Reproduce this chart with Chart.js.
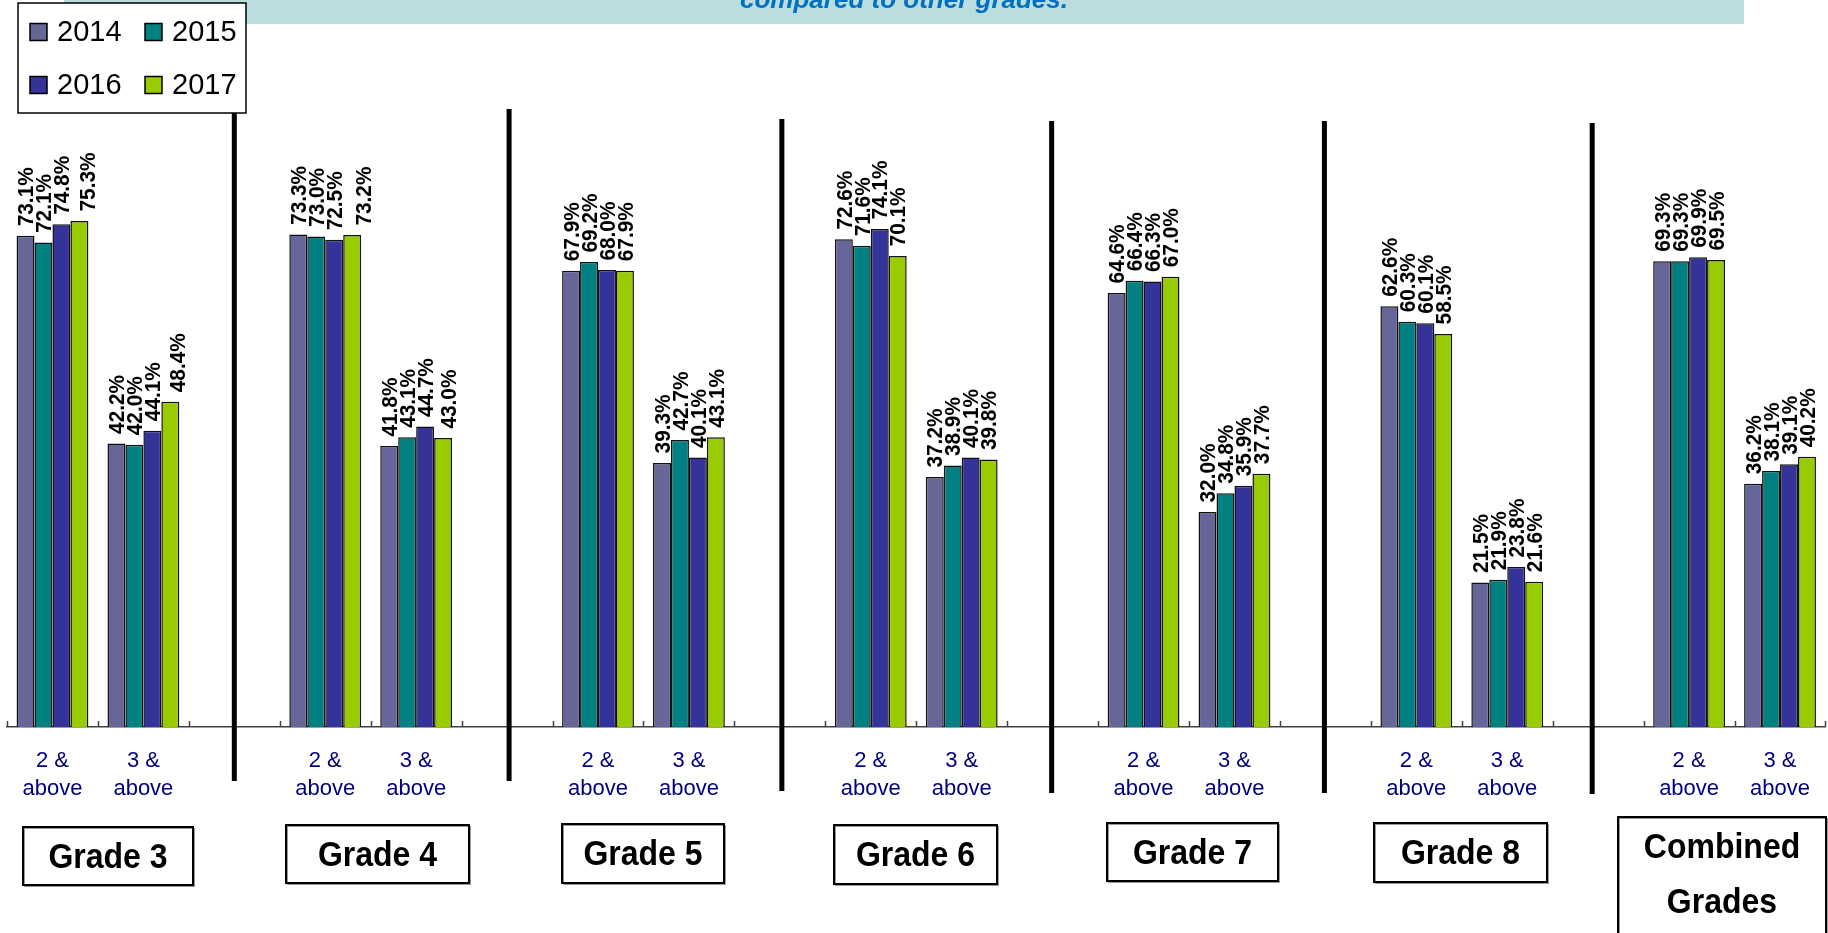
<!DOCTYPE html>
<html><head><meta charset="utf-8">
<script src="https://cdn.jsdelivr.net/npm/chart.js@4.4.0/dist/chart.umd.min.js"></script>
<style>
html,body{margin:0;padding:0;overflow:hidden;background:#fff;width:1828px;height:933px}
#wrap{position:absolute;left:0;top:0;width:1830px;height:933px}
</style>
</head><body><div id="wrap"><canvas id="c"></canvas></div>
<script>
// ---- data ----
const categories = [
  ['2 &','above'],['3 &','above'],'',
  ['2 &','above'],['3 &','above'],'',
  ['2 &','above'],['3 &','above'],'',
  ['2 &','above'],['3 &','above'],'',
  ['2 &','above'],['3 &','above'],'',
  ['2 &','above'],['3 &','above'],'',
  ['2 &','above'],['3 &','above']
];
const groupNames = [['Grade 3'],['Grade 4'],['Grade 5'],['Grade 6'],['Grade 7'],['Grade 8'],['Combined','Grades']];
const years = ['2014','2015','2016','2017'];
const v2014 = [73.1,42.2,null, 73.3,41.8,null, 67.9,39.3,null, 72.6,37.2,null, 64.6,32.0,null, 62.6,21.5,null, 69.3,36.2];
const v2015 = [72.1,42.0,null, 73.0,43.1,null, 69.2,42.7,null, 71.6,38.9,null, 66.4,34.8,null, 60.3,21.9,null, 69.3,38.1];
const v2016 = [74.8,44.1,null, 72.5,44.7,null, 68.0,40.1,null, 74.1,40.1,null, 66.3,35.9,null, 60.1,23.8,null, 69.9,39.1];
const v2017 = [75.3,48.4,null, 73.2,43.0,null, 67.9,43.1,null, 70.1,39.8,null, 67.0,37.7,null, 58.5,21.6,null, 69.5,40.2];
const bannerText = 'compared to other grades.';

// ---- styling / layout (decoration) ----
const colors = ['#666699','#008080','#333399','#99CC00'];
const FONT = 'Arial, "Liberation Sans", sans-serif';
const boxRects = [[23,827,193,885],[286,825,469,883],[562,824,724,883],[834,825,997,884],[1107,823,1278,881],[1374,823,1547,882],[1618,817,1826,945]];
const sepTops = [109,109,119,121,121,123];
const sepBottoms = [781,781,791,793,793,794];
const sepNudge = [0,2,2,-1,-1,-6];
const labelNudge2017 = {0:8,1:7,3:11,4:5};

const decor = {
  id:'decor',
  beforeDraw(chart){
    const ctx = chart.ctx;
    ctx.save();
    ctx.fillStyle = '#fff';
    ctx.fillRect(0,0,chart.width,chart.height);
    ctx.fillStyle = '#BADDE0';
    ctx.fillRect(64,0,1680,24);
    ctx.fillStyle = '#0070C0';
    ctx.font = 'italic bold 26px ' + FONT;
    ctx.textAlign = 'center';
    ctx.textBaseline = 'alphabetic';
    ctx.fillText(bannerText, 904, 8);
    ctx.restore();
  },
  afterDatasetsDraw(chart){
    const ctx = chart.ctx;
    const xs = chart.scales.x, ys = chart.scales.y;
    const n = categories.length;
    const base = ys.getPixelForValue(0);
    const step = (xs.right - xs.left) / n;
    ctx.save();
    // tick marks (inside)
    ctx.strokeStyle = '#404040';
    ctx.lineWidth = 1.5;
    for (let i = 0; i <= n; i++) {
      const x = Math.round(xs.left + i*step) + 0.5;
      ctx.beginPath(); ctx.moveTo(x, base - 6); ctx.lineTo(x, base); ctx.stroke();
    }
    // separators
    ctx.fillStyle = '#000';
    let s = 0;
    categories.forEach((c, i) => {
      if (c === '') {
        const x = xs.getPixelForValue(i) + sepNudge[s];
        ctx.fillRect(x - 2.5, sepTops[s], 5, sepBottoms[s] - sepTops[s]);
        s++;
      }
    });
    // data labels
    ctx.fillStyle = '#000';
    ctx.font = 'bold 20px ' + FONT;
    ctx.textAlign = 'left';
    ctx.textBaseline = 'alphabetic';
    chart.data.datasets.forEach((ds, di) => {
      const meta = chart.getDatasetMeta(di);
      meta.data.forEach((el, i) => {
        const v = ds.data[i];
        if (v === null || v === undefined) return;
        let dx = 0;
        if (di === 3 && labelNudge2017[i] !== undefined) dx = labelNudge2017[i];
        ctx.save();
        ctx.translate(el.x + dx, el.y - 9.5);
        ctx.rotate(-Math.PI/2);
        ctx.scale(1.04, 1.1);
        ctx.fillText(v.toFixed(1) + '%', 0, 7);
        ctx.restore();
      });
    });
    // grade boxes
    boxRects.forEach((r, gi) => {
      ctx.fillStyle = '#fff';
      ctx.fillRect(r[0], r[1], r[2]-r[0], r[3]-r[1]);
      ctx.strokeStyle = '#999';
      ctx.lineWidth = 1;
      ctx.strokeRect(r[0]+1.5, r[1]+1.5, r[2]-r[0], r[3]-r[1]);
      ctx.strokeStyle = '#000';
      ctx.lineWidth = 2;
      ctx.strokeRect(r[0], r[1], r[2]-r[0], r[3]-r[1]);
      const lines = groupNames[gi];
      ctx.fillStyle = '#000';
      ctx.font = 'bold 32px ' + FONT;
      ctx.textAlign = 'center';
      const cx = (r[0]+r[2])/2;
      lines.forEach((t, li) => {
        const by = lines.length === 1 ? r[1] + 41 : r[1] + 41 + li*55;
        ctx.save();
        ctx.translate(cx, by);
        ctx.scale(1, 1.1);
        ctx.fillText(t, 0, 0);
        ctx.restore();
      });
    });
    // legend
    ctx.fillStyle = '#fff';
    ctx.fillRect(18, 3, 228, 110);
    ctx.strokeStyle = '#000';
    ctx.lineWidth = 1.5;
    ctx.strokeRect(18, 3, 228, 110);
    const lx = [30, 145], ly = [32, 85];
    ctx.font = '29px ' + FONT;
    ctx.textAlign = 'left';
    ctx.textBaseline = 'middle';
    chart.data.datasets.forEach((ds, di) => {
      const x = lx[di % 2], y = ly[Math.floor(di/2)];
      ctx.fillStyle = ds.backgroundColor;
      ctx.fillRect(x, y - 8.5, 17, 17);
      ctx.strokeStyle = '#000';
      ctx.lineWidth = 1.5;
      ctx.strokeRect(x, y - 8.5, 17, 17);
      ctx.fillStyle = '#000';
      ctx.fillText(ds.label, x + 27, y + 1);
    });
    ctx.restore();
  }
};

const series = [v2014, v2015, v2016, v2017];
new Chart(document.getElementById('c'), {
  type: 'bar',
  data: {
    labels: categories,
    datasets: series.map((d, i) => ({
      label: years[i], data: d, backgroundColor: colors[i],
      borderColor: '#111', borderWidth: 1.5,
      categoryPercentage: 0.79, barPercentage: 1.0
    }))
  },
  options: {
    responsive: true, maintainAspectRatio: false, animation: false,
    layout: {padding: {left: 7, top: 55, right: 0, bottom: 0}},
    plugins: {legend: {display: false}, tooltip: {enabled: false}},
    scales: {
      x: {
        grid: {display: false, drawTicks: false},
        border: {display: true, color: '#404040', width: 1.5},
        ticks: {autoSkip: false, maxRotation: 0, minRotation: 0, color: '#000080',
          font: {family: FONT, size: 22, lineHeight: 1.2727}, padding: 20},
        afterFit(s){ s.height = 206; }
      },
      y: {display: false, min: 0, max: 100}
    }
  },
  plugins: [decor]
});
</script>
</body></html>
